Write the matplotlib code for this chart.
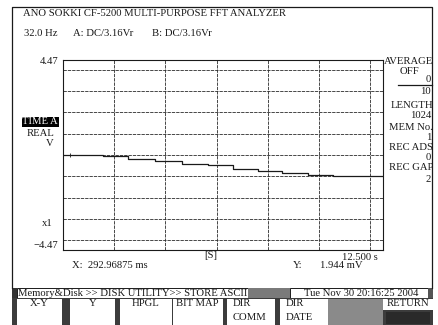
import matplotlib
matplotlib.use("Agg")
import matplotlib.pyplot as plt
from matplotlib.patches import Rectangle

# time trace (step shape)
step_t = [0.0, 1.56, 2.54, 3.59, 4.65, 5.66, 6.64, 7.62, 8.55, 9.57, 10.55, 12.5]
step_v = [0.0, -0.06, -0.18, -0.30, -0.41, -0.49, -0.64, -0.75, -0.85, -0.94, -1.01, -1.01]
cursor_t = 0.29296875
cursor_v = 0.001944
x_grid = [0, 2, 4, 6, 8, 10, 12]
y_grid = [-4, -3, -2, -1, 0, 1, 2, 3, 4]
x_end = 12.5
y_full = 4.47

title = "ANO SOKKI CF-5200 MULTI-PURPOSE FFT ANALYZER"
header = ["32.0 Hz", "A: DC/3.16Vr", "B: DC/3.16Vr"]
panel_labels = ["AVERAGE", "OFF", "LENGTH", "MEM No.", "REC ADS", "REC GAP"]
panel_values = ["0", "10", "1024", "1", "0", "2"]
status_text = "Memory&Disk >> DISK UTILITY>> STORE ASCII"
date_text = "Tue Nov 30 20:16:25 2004"
buttons = ["X-Y", "Y", "HPGL", "BIT MAP", "DIR\nCOMM", "DIR\nDATE"]

plt.rcParams["font.family"] = ["Liberation Serif", "DejaVu Serif"]
W, H = 439, 325
FS = 7.7
INK = "#1a1a1a"

fig = plt.figure(figsize=(W / 100, H / 100), dpi=100)
bg = fig.add_axes([0, 0, 1, 1])
bg.set_xlim(0, W)
bg.set_ylim(H, 0)
bg.axis("off")

# outer screen frame
bg.plot([12, 12, 432, 432], [288, 7, 7, 288], color=INK, lw=0.9)

bg.text(23, 14, title, fontsize=FS, va="center", color=INK)
for x, s in zip([24, 73, 152], header):
    bg.text(x, 34, s, fontsize=FS, va="center", color=INK)

# plot area
ax = fig.add_axes([63 / W, 1 - 250 / H, 320 / W, 190 / H])
ax.step(step_t, step_v, where="post", color=INK, lw=0.9, zorder=3)
ax.plot([cursor_t], [cursor_v], marker="+", ms=3, mew=0.6, color=INK, zorder=4)
ax.set_xlim(0, x_end)
ax.set_ylim(-y_full, y_full)
ax.set_xticks(x_grid)
ax.set_yticks(y_grid)
ax.tick_params(length=0, labelbottom=False, labelleft=False)
ax.grid(True, color="#2a2a2a", lw=0.6, ls=(0, (4, 1.2)))
for sp in ax.spines.values():
    sp.set_color(INK)
    sp.set_linewidth(0.8)

# left labels
bg.text(58, 61, f"{y_full:.2f}", fontsize=FS, ha="right", va="center", color=INK)
bg.text(58, 122, "TIME A", fontsize=FS, ha="right", va="center", color="white",
        bbox=dict(facecolor="black", edgecolor="none", pad=0.4))
bg.text(54, 133, "REAL", fontsize=FS, ha="right", va="center", color=INK)
bg.text(54, 144, "V", fontsize=FS, ha="right", va="center", color=INK)
bg.text(53, 224, "x1", fontsize=FS, ha="right", va="center", color=INK)
bg.text(58, 245, f"\u2212{y_full:.2f}", fontsize=FS, ha="right", va="center", color=INK)

# bottom readouts
bg.text(217, 256, "[S]", fontsize=FS, ha="right", va="center", color=INK)
bg.text(378, 257, f"{x_end:.3f} s", fontsize=FS, ha="right", va="center", color=INK)
bg.text(72, 266, f"X:  {cursor_t * 1000:.5f} ms", fontsize=FS, va="center", color=INK)
bg.text(293, 266, "Y:", fontsize=FS, va="center", color=INK)
bg.text(320, 266, f"{cursor_v * 1000:.3f} mV", fontsize=FS, va="center", color=INK)

# right side panel
label_y = [62, 71, 106, 127, 147, 168]
value_y = [80, 91, 116, 137, 158, 179]
for s, y in zip(panel_labels, label_y):
    xc = 410 if s == "OFF" else 433
    bg.text(xc, y, s, fontsize=FS, ha="center" if s == "OFF" else "right",
            va="center", color=INK)
for s, y in zip(panel_values, value_y):
    bg.text(431, y, s, fontsize=FS, ha="right", va="center", color=INK)
bg.plot([398, 432], [85, 85], color=INK, lw=0.9)

# status bar
bg.add_patch(Rectangle((12, 288), 5, 10, facecolor="#333333", edgecolor="none"))
bg.add_patch(Rectangle((17, 288), 231, 10, facecolor="white", edgecolor=INK, lw=0.7))
bg.add_patch(Rectangle((248, 288), 42, 10, facecolor="#7a7a7a", edgecolor="none"))
bg.add_patch(Rectangle((290, 288), 138, 10, facecolor="white", edgecolor=INK, lw=0.7))
bg.add_patch(Rectangle((428, 288), 5, 10, facecolor="#555555", edgecolor="none"))
bg.text(18, 293.5, status_text, fontsize=FS, va="center", color=INK)
bg.text(361, 293.5, date_text, fontsize=FS, ha="center", va="center", color=INK)

# button row
bg.add_patch(Rectangle((12, 298), 421, 27, facecolor="#3c3c3c", edgecolor="none"))
spans = [(17, 62), (70, 115), (120, 172), (173, 223), (227, 275), (280, 328)]
for s, (x0, x1) in zip(buttons, spans):
    bg.add_patch(Rectangle((x0, 299), x1 - x0, 26, facecolor="white", edgecolor="none"))
    if "\n" in s:
        top, bot = s.split("\n")
        bg.text(x0 + 6, 303, top, fontsize=FS, va="center", color=INK)
        bg.text(x0 + 6, 318, bot, fontsize=FS, va="center", color=INK)
    elif s == "BIT MAP":
        bg.text(x0 + 3, 304, s, fontsize=FS, va="center", color=INK)
    else:
        bg.text((x0 + x1) / 2, 304, s, fontsize=FS, ha="center", va="center", color=INK)
bg.add_patch(Rectangle((328, 299), 55, 26, facecolor="#8a8a8a", edgecolor="none"))
bg.add_patch(Rectangle((383, 299), 50, 11, facecolor="white", edgecolor="none"))
bg.add_patch(Rectangle((386, 312), 44, 12, facecolor="#2a2a2a", edgecolor="none"))
bg.text(408, 304, "RETURN", fontsize=FS, ha="center", va="center", color=INK)

fig.savefig("out.png", dpi=100)
